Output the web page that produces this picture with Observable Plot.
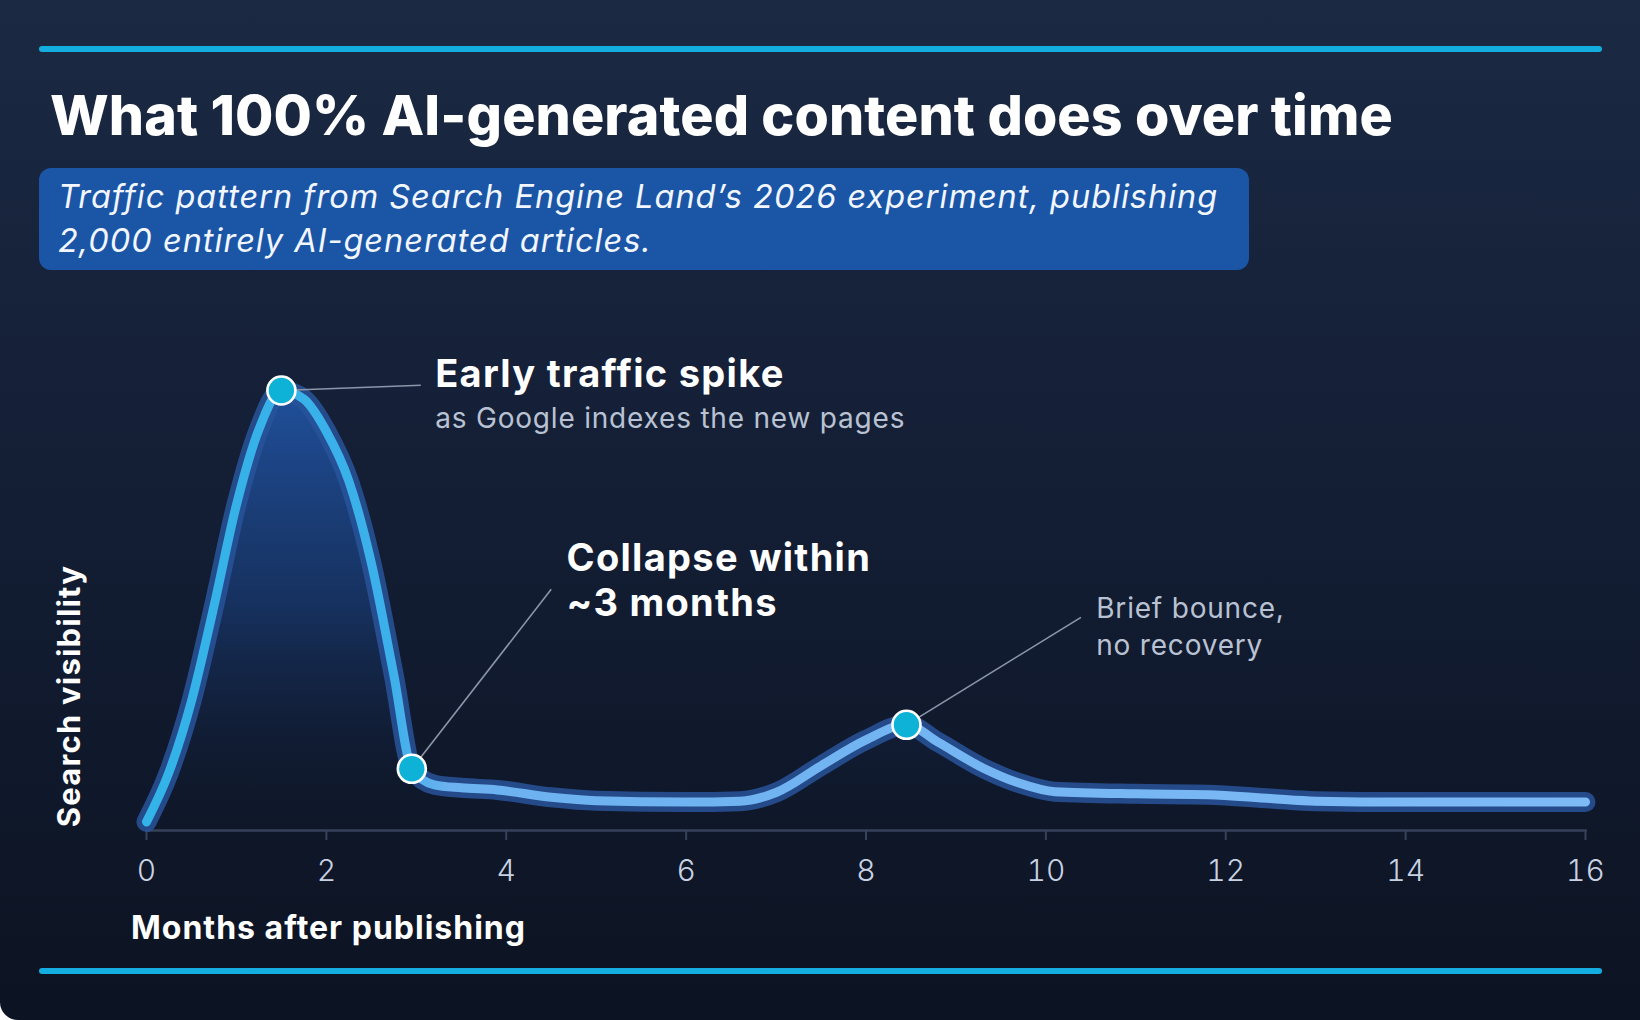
<!DOCTYPE html>
<html>
<head>
<meta charset="utf-8">
<script src="https://cdn.jsdelivr.net/npm/d3@7"></script>
<script src="https://cdn.jsdelivr.net/npm/@observablehq/plot@0.6"></script>
<style>
  html, body { margin: 0; padding: 0; background: #ffffff; }
  #card {
    position: relative; width: 1640px; height: 1020px; overflow: hidden;
    background: linear-gradient(180deg, #1b2943 0%, #141f36 45%, #0c1322 100%);
    border-bottom-left-radius: 18px;
    font-family: Inter, "Open Sans", sans-serif;
  }
  .rule { position: absolute; left: 39px; width: 1563px; height: 6px; border-radius: 3px; background: #14ade0; }
  #title { position: absolute; left: 50px; top: 87px; font-size: 55.5px; font-weight: 800; color: #ffffff; line-height: 1; letter-spacing: 0.1px; white-space: nowrap; }
  #subbox { position: absolute; left: 39px; top: 168px; width: 1210px; height: 102px; border-radius: 12px; background: #1a55a6; }
  #subtitle { position: absolute; left: 58px; top: 175px; font-size: 32.5px; font-style: italic; font-weight: 400; color: #f2f6ff; line-height: 44px; letter-spacing: 1px; white-space: nowrap; }
  #chart { position: absolute; left: 0; top: 300px; }
  #xlabel { position: absolute; left: 131px; top: 912px; font-size: 32px; font-weight: 700; color: #ffffff; line-height: 1; letter-spacing: 1px; white-space: nowrap; }
  #ylabel { position: absolute; left: 68px; top: 696px; font-size: 31px; font-weight: 700; color: #ffffff; line-height: 1; letter-spacing: 1.2px; white-space: nowrap;
            transform: translate(-50%, -50%) rotate(-90deg); }
</style>
</head>
<body>
<div id="card">
  <div class="rule" style="top:46px"></div>
  <div id="title"></div>
  <div id="subbox"></div>
  <div id="subtitle"></div>
  <div id="chart"></div>
  <div id="xlabel"></div>
  <div id="ylabel"></div>
  <div class="rule" style="top:968px"></div>
</div>
<script>
// ---- text ----
const titleText = "What 100% AI-generated content does over time";
const subtitleLines = [
  "Traffic pattern from Search Engine Land’s 2026 experiment, publishing",
  "2,000 entirely AI-generated articles."
];
const xTitle = "Months after publishing";
const yTitle = "Search visibility";

// ---- series ----
const months = [0, 0.25, 0.5, 0.75, 1, 1.25, 1.5, 1.75, 2, 2.25, 2.5, 2.75, 2.95, 3.2, 3.5, 3.9, 4.5, 5, 6, 6.6, 7, 7.5, 8, 8.45, 8.8, 9.3, 9.7, 10.1, 11, 11.8, 12.5, 13, 14, 16];
const visibility = [0, 11.5, 28, 50, 73.5, 91, 100, 98, 90.5, 79, 60, 34, 12.3, 8.6, 7.9, 7.4, 5.7, 4.9, 4.6, 4.8, 6.8, 13, 19, 22.5, 18.5, 12.5, 9, 7, 6.5, 6.3, 5.4, 4.8, 4.6, 4.6];

// ---- highlighted points ----
const keyMonths = [1.5, 2.95, 8.45];
const keyValues = [100, 12.3, 22.5];

// ---- annotations ----
const noteHeads = ["Early traffic spike", "Collapse within\n~3 months", ""];
const noteSubs = ["as Google indexes the new pages", "", "Brief bounce,\nno recovery"];
const noteMonths = [3.21, 4.67, 10.56];
const headValues = [100.7, 47.8, 0];
const subValues = [91.2, 0, 38.8];
const leaderMonths = [3.05, 4.5, 10.39];
const leaderValues = [101.2, 53.9, 47.4];

// ---- axis ----
const monthTicks = [0, 2, 4, 6, 8, 10, 12, 14, 16];
const xDomain = [0, 16];
const yDomain = [-2, 100];

document.getElementById("title").textContent = titleText;
document.getElementById("subtitle").innerHTML = subtitleLines.join("<br>");
document.getElementById("xlabel").textContent = xTitle;
document.getElementById("ylabel").textContent = yTitle;

const series = months.map((m, i) => ({m, v: visibility[i]}));
const keys = keyMonths.map((m, i) => ({m, v: keyValues[i]}));
const notes = noteMonths.map((m, i) => ({
  m, head: noteHeads[i], sub: noteSubs[i], hv: headValues[i], sv: subValues[i],
  km: keyMonths[i], kv: keyValues[i], lm: leaderMonths[i], lv: leaderValues[i]
}));

const defs = () => {
  const d = d3.create("svg:defs");
  const lg = d.append("linearGradient").attr("id", "lineGrad").attr("x1", 0).attr("x2", 1).attr("y1", 0).attr("y2", 0);
  [[0, "#33b3e8"], [0.17, "#3cb0ea"], [0.21, "#6cb1f0"], [1, "#7ebaf6"]].forEach(([o, c]) =>
    lg.append("stop").attr("offset", o).attr("stop-color", c));
  const ag = d.append("linearGradient").attr("id", "areaGrad").attr("x1", 0).attr("x2", 0).attr("y1", 0).attr("y2", 1);
  [[0, "#2052a0", 0.95], [0.5, "#183a72", 0.7], [1, "#101a30", 0]].forEach(([o, c, a]) =>
    ag.append("stop").attr("offset", o).attr("stop-color", c).attr("stop-opacity", a));
  return d.node();
};

const chart = Plot.plot({
  width: 1640,
  height: 700,
  marginLeft: 146,
  marginRight: 55,
  marginTop: 90,
  marginBottom: 170,
  style: {background: "transparent", overflow: "visible", fontFamily: "Inter, 'Open Sans', sans-serif"},
  x: {domain: xDomain},
  y: {domain: yDomain, axis: null},
  marks: [
    defs,
    Plot.areaY(series, {x: "m", y: "v", fill: "url(#areaGrad)", curve: "monotone-x"}),
    Plot.frame({anchor: "bottom", stroke: "#36415a", strokeWidth: 2.5}),
    Plot.axisX({ticks: monthTicks, tickSize: 10, tickPadding: 19, stroke: "#36415a", strokeWidth: 2,
                fill: "#c9d2e2", fontSize: 30, fontWeight: 300, label: null}),
    Plot.lineY(series, {x: "m", y: "v", stroke: "#28549a", strokeOpacity: 0.85, strokeWidth: 20, curve: "monotone-x", strokeLinecap: "round", strokeLinejoin: "round"}),
    Plot.lineY(series, {x: "m", y: "v", stroke: "url(#lineGrad)", strokeWidth: 9, curve: "monotone-x", strokeLinecap: "round", strokeLinejoin: "round"}),
    Plot.link(notes, {x1: "km", y1: "kv", x2: "lm", y2: "lv", stroke: "#8b96aa", strokeWidth: 1.6}),
    Plot.dot(keys, {x: "m", y: "v", r: 14, fill: "#0db2d6", stroke: "#ffffff", strokeWidth: 2.6}),
    Plot.text(notes.filter(d => d.head), {x: "m", y: "hv", text: "head", textAnchor: "start", lineAnchor: "bottom",
              lineHeight: 1.18, fill: "#ffffff", fontSize: 38, fontWeight: 700}),
    Plot.text(notes.filter(d => d.sub), {x: "m", y: "sv", text: "sub", textAnchor: "start", lineAnchor: "bottom",
              lineHeight: 1.3, fill: "#b9c2d3", fontSize: 28, fontWeight: 400})
  ]
});
d3.select(chart).selectAll('g[font-size="38"]').style("letter-spacing", "1.3px");
d3.select(chart).selectAll('g[font-size="28"]').style("letter-spacing", "0.8px");
document.getElementById("chart").appendChild(chart);
</script>
</body>
</html>
